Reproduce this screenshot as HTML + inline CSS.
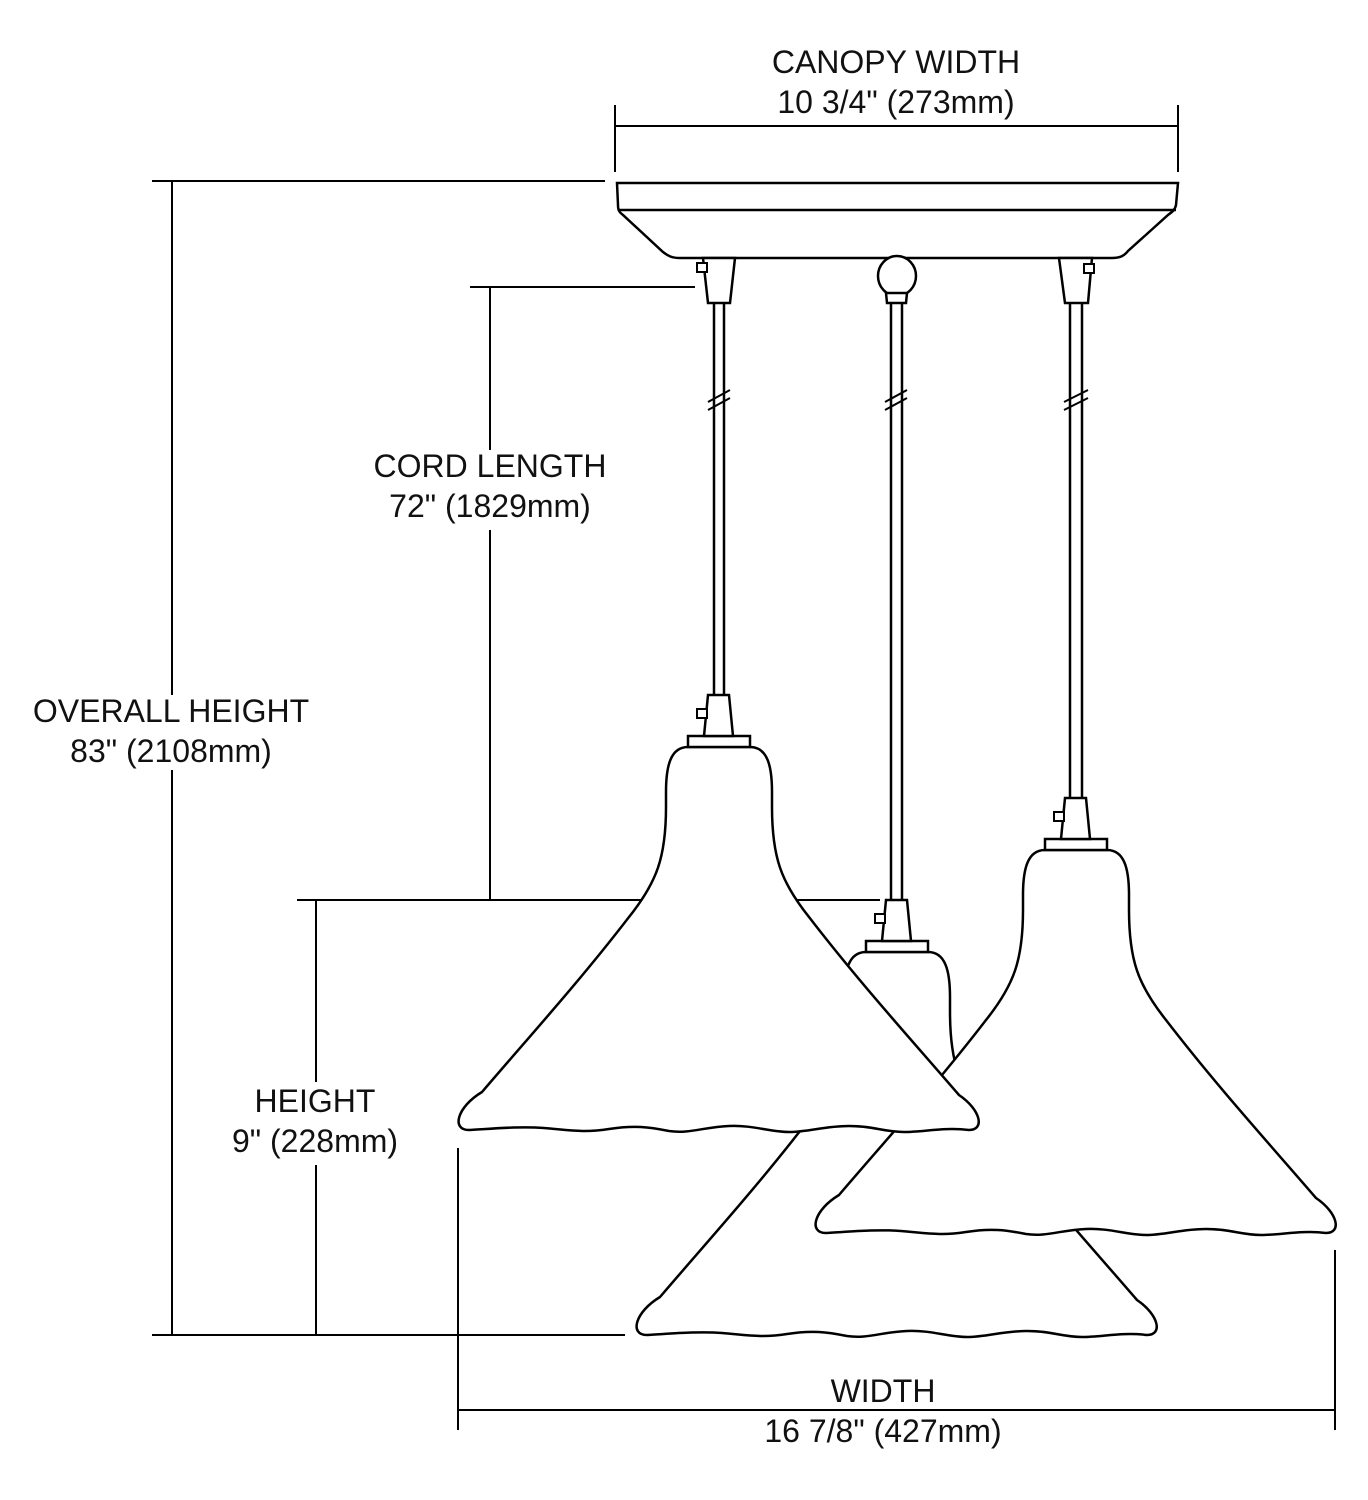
<!DOCTYPE html>
<html><head><meta charset="utf-8"><style>
html,body{margin:0;padding:0;background:#fff;}
svg{display:block;}
text{font-family:"Liberation Sans",sans-serif;font-size:32px;fill:#111;text-anchor:middle;}
</style></head><body>
<svg width="1368" height="1500" viewBox="0 0 1368 1500" xmlns="http://www.w3.org/2000/svg">
<defs>
<g id="shade">
<path d="M-31,0 C-48,0 -53,18 -53,45 L-53,60 C-53,110 -62,135 -90,170 C-140,235 -190,290 -237,345 C-262,360 -268,383 -250,383
 C-230,382 -200,379 -175,381 C-150,383 -135,386 -110,382 C-85,378 -70,380 -50,384 C-30,387 -15,380 10,379 C35,378 50,385 70,385 C90,385 105,379 130,379 C155,379 165,385 185,385 C205,385 225,380 250,383
 C266,383 262,363 240,348 C190,290 140,235 90,170 C62,135 53,110 53,60 L53,45 C53,18 48,0 31,0 Z" fill="#fff" stroke="#000" stroke-width="2.5"/>
<rect x="-31" y="-11" width="62" height="11" fill="#fff" stroke="#000" stroke-width="2.5"/>
<path d="M-11,-52 L10,-52 L14,-11 L-15,-11 Z" fill="#fff" stroke="#000" stroke-width="2.5"/>
<rect x="-22" y="-38" width="10" height="9" fill="#fff" stroke="#000" stroke-width="2"/>
</g>
</defs>
<g stroke="#000" stroke-width="2" fill="none">
<line x1="615" y1="105" x2="615" y2="172"/><line x1="1178" y1="105" x2="1178" y2="172"/>
<line x1="615" y1="126" x2="1178" y2="126"/>
<line x1="152" y1="181" x2="605" y2="181"/><line x1="152" y1="1335" x2="625" y2="1335"/>
<line x1="172" y1="181" x2="172" y2="695"/><line x1="172" y1="770" x2="172" y2="1335"/>
<line x1="470" y1="287" x2="695" y2="287"/>
<line x1="490" y1="287" x2="490" y2="450"/><line x1="490" y1="530" x2="490" y2="900"/>
<line x1="297" y1="900" x2="880" y2="900"/>
<line x1="316" y1="900" x2="316" y2="1082"/><line x1="316" y1="1165" x2="316" y2="1335"/>
<line x1="458" y1="1148" x2="458" y2="1430"/><line x1="1335" y1="1250" x2="1335" y2="1430"/>
<line x1="458" y1="1410" x2="1335" y2="1410"/>
</g>
<g stroke="#000" stroke-width="2.5" fill="#fff">
<path d="M617,183 L1178,183 L1176,205 C1175,210 1172,212 1168,215 L1128,251 C1124,256 1120,258 1112,258 L680,258 C672,258 668,256 663,252 L623,215 C619,212 618,210 618,205 Z"/>
<line x1="619" y1="210" x2="1176" y2="210"/>
<path d="M703,258 L735,258 L730,303 L708,303 Z"/>
<path d="M1059,258 L1092,258 L1088,303 L1065,303 Z"/>
<ellipse cx="897" cy="276" rx="19" ry="20"/>
<path d="M886,293 L907,293 L906,303 L887,303 Z"/>
<rect x="697" y="263" width="10" height="9" stroke-width="2"/>
<rect x="1084" y="264" width="10" height="9" stroke-width="2"/>
<line x1="714" y1="303" x2="714" y2="695"/><line x1="724" y1="303" x2="724" y2="695"/>
<line x1="891" y1="303" x2="891" y2="900"/><line x1="902" y1="303" x2="902" y2="900"/>
<line x1="1070" y1="303" x2="1070" y2="798"/><line x1="1082" y1="303" x2="1082" y2="798"/>
<path d="M708,402 L730,390 M708,410 L730,398" stroke-width="2"/>
<path d="M885,402 L907,390 M885,410 L907,398" stroke-width="2"/>
<path d="M1064,402 L1088,390 M1064,410 L1088,398" stroke-width="2"/>
</g>
<use href="#shade" x="897" y="952"/>
<use href="#shade" x="1076" y="850"/>
<use href="#shade" x="719" y="747"/>
<text x="896" y="73">CANOPY WIDTH</text>
<text x="896" y="113">10 3/4" (273mm)</text>
<text x="490" y="477">CORD LENGTH</text>
<text x="490" y="517">72" (1829mm)</text>
<text x="171" y="722">OVERALL HEIGHT</text>
<text x="171" y="762">83" (2108mm)</text>
<text x="315" y="1112">HEIGHT</text>
<text x="315" y="1152">9" (228mm)</text>
<text x="883" y="1402">WIDTH</text>
<text x="883" y="1442">16 7/8" (427mm)</text>
</svg>
</body></html>
